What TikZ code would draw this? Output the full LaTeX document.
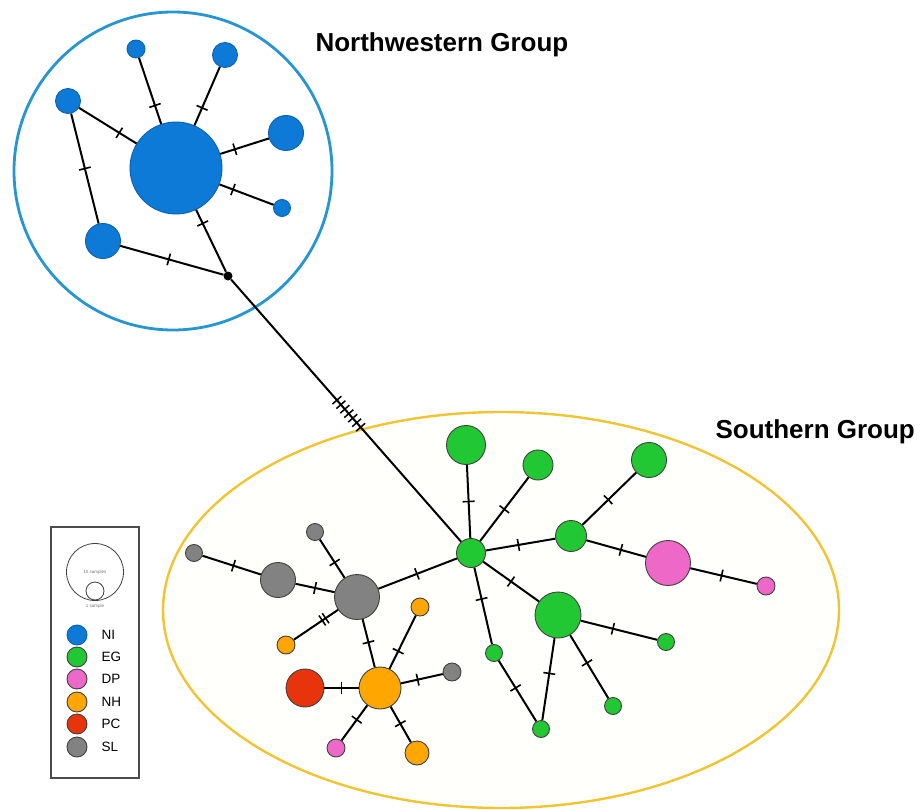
\documentclass[tikz,border=0pt]{standalone}
\usepackage{fontspec}
\setmainfont{Liberation Sans}
\usetikzlibrary{decorations.markings}
\definecolor{niblue}{RGB}{12,122,214}
\definecolor{ringblue}{RGB}{38,150,210}
\definecolor{ringgold}{RGB}{240,196,50}
\definecolor{eggreen}{RGB}{34,200,52}
\definecolor{dppink}{RGB}{238,104,200}
\definecolor{nhorange}{RGB}{255,166,0}
\definecolor{pcred}{RGB}{232,52,12}
\definecolor{slgray}{RGB}{130,130,130}
\tikzset{
  hap/.style={circle,draw=black!75,line width=0.9pt,inner sep=0pt,minimum size=#1},
  ni/.style={hap=#1,fill=niblue,draw=niblue!80!black},
  eg/.style={hap=#1,fill=eggreen},
  dp/.style={hap=#1,fill=dppink},
  nh/.style={hap=#1,fill=nhorange},
  pc/.style={hap=#1,fill=pcred},
  sl/.style={hap=#1,fill=slgray},
  link/.style={line width=2pt},
  mut/.style={postaction={decorate,decoration={markings,
    mark=at position #1 with {\draw[line width=1.6pt] (0,-6pt) -- (0,6pt);}}}},
  mut/.default=0.5,
  muts/.style n args={3}{postaction={decorate,decoration={markings,
    mark=between positions #1 and #2 step #3 with {\draw[line width=1.5pt] (0,-6pt) -- (0,6pt);}}}},
  grouplabel/.style={anchor=west,font=\fontsize{26}{30}\selectfont\bfseries},
  keylabel/.style={anchor=west,font=\fontsize{13.5}{15}\selectfont}
}
\begin{document}
\begin{tikzpicture}[x=1pt,y=-1pt]
\useasboundingbox (0,0) rectangle (920,810);
\draw[ringblue,line width=2.8pt,fill=white] (173,171) circle (159pt);
\draw[ringgold,line width=2.4pt,fill=yellow!1] (501,610) ellipse [x radius=338pt,y radius=198pt];
\node (nwlabel) at (312,45) [grouplabel] {Northwestern Group};
\node (slabel) at (712,432) [grouplabel] {Southern Group};
% northwestern haplotypes
\node (ni0) at (176,168) [ni=92pt] {};
\node (ni1) at (136,49) [ni=18pt] {};
\node (ni2) at (225,55) [ni=25pt] {};
\node (ni3) at (68,101) [ni=25pt] {};
\node (ni4) at (286,133) [ni=35pt] {};
\node (ni5) at (282,208) [ni=17pt] {};
\node (ni6) at (103,241) [ni=35pt] {};
\node (jn) at (228,276) [circle,fill=black,inner sep=0pt,minimum size=9pt] {};
\draw[link,mut=0.28] (ni0) -- (ni1);
\draw[link,mut=0.3] (ni0) -- (ni2);
\draw[link,mut=0.3] (ni0) -- (ni3);
\draw[link,mut=0.3] (ni0) -- (ni4);
\draw[link,mut=0.25] (ni0) -- (ni5);
\draw[link,mut=0.22] (ni0) -- (jn);
\draw[link,mut] (ni3) -- (ni6);
\draw[link,mut=0.47] (ni6) -- (jn);
% southern haplotypes
\node (eg0) at (471,553) [eg=29pt] {};
\node (eg1) at (466,445) [eg=39pt] {};
\node (eg2) at (538,465) [eg=30pt] {};
\node (eg3) at (571,536) [eg=31pt] {};
\node (eg4) at (649,460) [eg=35pt] {};
\node (dp1) at (668,563) [dp=45pt] {};
\node (dp2) at (766,586) [dp=18pt] {};
\node (eg5) at (558,615) [eg=46pt] {};
\node (eg6) at (666,642) [eg=17pt] {};
\node (eg7) at (613,706) [eg=17pt] {};
\node (eg8) at (494,653) [eg=17pt] {};
\node (eg9) at (541,729) [eg=17pt] {};
\node (sl0) at (357,597) [sl=45pt] {};
\node (sl1) at (278,580) [sl=35pt] {};
\node (sl2) at (194,553) [sl=17pt] {};
\node (sl3) at (315,532) [sl=17pt] {};
\node (sl4) at (452,672) [sl=18pt] {};
\node (nh0) at (380,688) [nh=42pt] {};
\node (nh1) at (286,645) [nh=18pt] {};
\node (nh2) at (420,607) [nh=18pt] {};
\node (nh3) at (417,753) [nh=24pt] {};
\node (pc1) at (305,688) [pc=38pt] {};
\node (dp3) at (336,748) [dp=18pt] {};
\draw[link,muts={0.46}{0.57}{6pt}] (jn) -- (eg0);
\draw[link,mut] (eg0) -- (eg1);
\draw[link,mut] (eg0) -- (eg2);
\draw[link,mut=0.47] (eg0) -- (eg3);
\draw[link,mut=0.48] (eg3) -- (eg4);
\draw[link,mut=0.58] (eg3) -- (dp1);
\draw[link,mut=0.47] (dp1) -- (dp2);
\draw[link,mut] (eg0) -- (eg5);
\draw[link,mut=0.42] (eg5) -- (eg6);
\draw[link,mut=0.44] (eg5) -- (eg7);
\draw[link,mut=0.43] (eg5) -- (eg9);
\draw[link,mut=0.41] (eg0) -- (eg8);
\draw[link,mut=0.45] (eg8) -- (eg9);
\draw[link,mut=0.49] (sl0) -- (eg0);
\draw[link,mut] (sl0) -- (sl1);
\draw[link,mut=0.47] (sl1) -- (sl2);
\draw[link,mut=0.4] (sl0) -- (sl3);
\draw[link,muts={0.28}{0.43}{4pt}] (sl0) -- (nh1);
\draw[link,mut=0.48] (sl0) -- (nh0);
\draw[link,mut=0.33] (nh0) -- (nh2);
\draw[link,mut] (nh0) -- (pc1);
\draw[link,mut=0.4] (nh0) -- (sl4);
\draw[link,mut=0.41] (nh0) -- (dp3);
\draw[link,mut=0.48] (nh0) -- (nh3);
% legend
\draw[black!70,line width=1.8pt,fill=white] (51,527) rectangle (139,778);
\node (k10) at (95,572) [circle,draw=black!75,line width=0.8pt,minimum size=57pt,inner sep=0pt,font=\fontsize{4.5}{5}\selectfont,text=black!55] {10 samples};
\node (k1) at (95,591) [circle,draw=black!75,line width=0.8pt,fill=white,minimum size=18pt,inner sep=0pt] {};
\node (k1txt) at (95,606) [font=\fontsize{4.5}{5}\selectfont,text=black!55] {1 sample};
\node (kni) at (77,635) [ni=20pt] {};
\node (keg) at (77,657) [eg=20pt] {};
\node (kdp) at (77,679) [dp=20pt] {};
\node (knh) at (77,702) [nh=20pt] {};
\node (kpc) at (77,724) [pc=20pt] {};
\node (ksl) at (77,747) [sl=20pt] {};
\node at (98,635) [keylabel] {NI};
\node at (98,657) [keylabel] {EG};
\node at (98,679) [keylabel] {DP};
\node at (98,702) [keylabel] {NH};
\node at (98,724) [keylabel] {PC};
\node at (98,747) [keylabel] {SL};
\end{tikzpicture}
\end{document}
